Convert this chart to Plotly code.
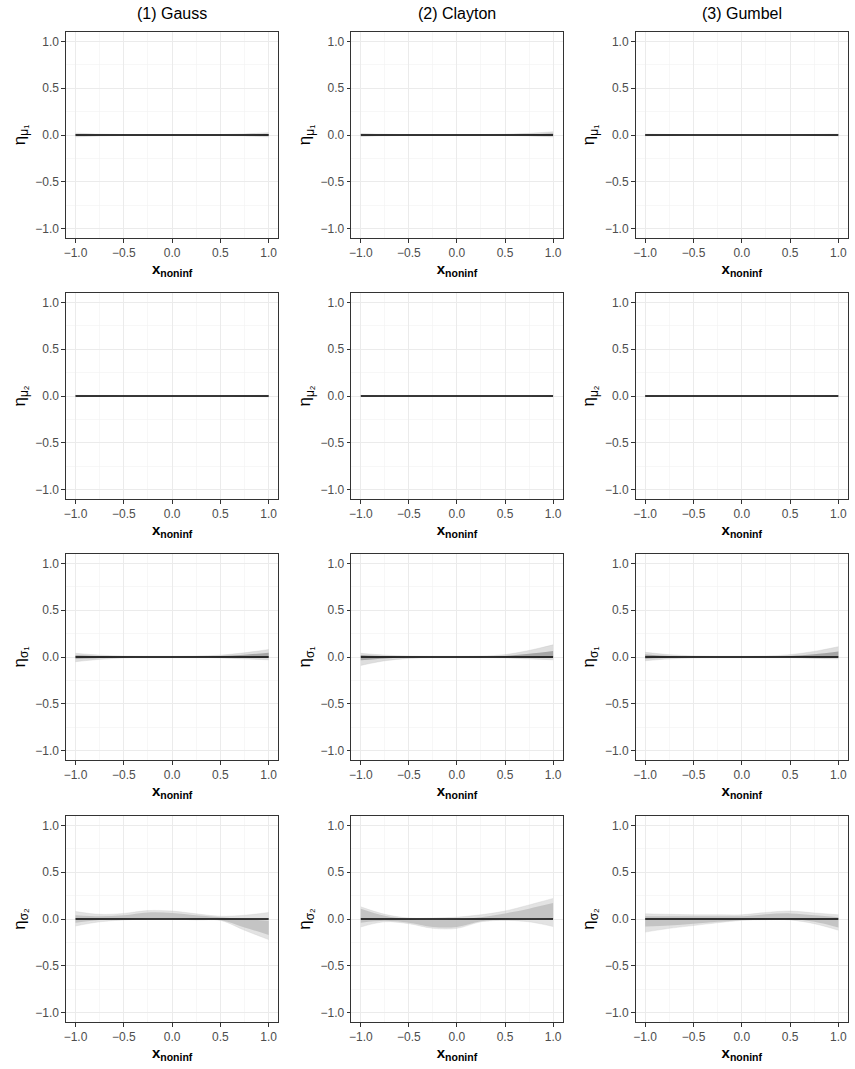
import plotly.graph_objects as go

# ---------------- data ----------------
x_grid = [-1.0, -0.75, -0.5, -0.25, 0.0, 0.25, 0.5, 0.75, 1.0]
true_effect = [0, 0, 0, 0, 0, 0, 0, 0, 0]

copulas = ["(1) Gauss", "(2) Clayton", "(3) Gumbel"]
params = ["μ₁", "μ₂", "σ₁", "σ₂"]
tick_vals = [-1.0, -0.5, 0.0, 0.5, 1.0]
tick_text = ["−1.0", "−0.5", "0.0", "0.5", "1.0"]

# envelopes of the simulated estimates: (outer low, core low, core high, outer high)
gauss_mu1 = ([-0.02, -0.01, -0.005, -0.005, -0.005, -0.005, -0.005, -0.01, -0.02],
             [-0.008, -0.004, -0.002, -0.002, -0.002, -0.002, -0.002, -0.004, -0.008],
             [0.008, 0.004, 0.002, 0.002, 0.002, 0.002, 0.002, 0.004, 0.01],
             [0.02, 0.01, 0.005, 0.005, 0.005, 0.005, 0.005, 0.012, 0.025])
clayton_mu1 = ([-0.015, -0.008, -0.004, -0.004, -0.004, -0.004, -0.005, -0.01, -0.02],
               [-0.006, -0.003, -0.002, -0.002, -0.002, -0.002, -0.002, -0.004, -0.008],
               [0.006, 0.003, 0.002, 0.002, 0.002, 0.002, 0.003, 0.008, 0.015],
               [0.015, 0.008, 0.004, 0.004, 0.004, 0.005, 0.008, 0.018, 0.035])
gumbel_mu1 = ([-0.01, -0.006, -0.003, -0.003, -0.003, -0.003, -0.003, -0.006, -0.01],
              [-0.004, -0.002, -0.001, -0.001, -0.001, -0.001, -0.001, -0.002, -0.004],
              [0.004, 0.002, 0.001, 0.001, 0.001, 0.001, 0.001, 0.002, 0.004],
              [0.01, 0.006, 0.003, 0.003, 0.003, 0.003, 0.003, 0.006, 0.01])
gauss_mu2 = ([-0.008, -0.004, -0.002, -0.002, -0.002, -0.002, -0.002, -0.004, -0.01],
             [-0.003, -0.002, -0.001, -0.001, -0.001, -0.001, -0.001, -0.002, -0.004],
             [0.003, 0.002, 0.001, 0.001, 0.001, 0.001, 0.001, 0.002, 0.003],
             [0.008, 0.004, 0.002, 0.002, 0.002, 0.002, 0.002, 0.004, 0.008])
clayton_mu2 = ([-0.006, -0.003, -0.002, -0.002, -0.002, -0.002, -0.002, -0.003, -0.008],
               [-0.002, -0.001, -0.001, -0.001, -0.001, -0.001, -0.001, -0.001, -0.003],
               [0.002, 0.001, 0.001, 0.001, 0.001, 0.001, 0.001, 0.001, 0.002],
               [0.006, 0.003, 0.002, 0.002, 0.002, 0.002, 0.002, 0.003, 0.006])
gumbel_mu2 = ([-0.005, -0.003, -0.002, -0.002, -0.002, -0.002, -0.002, -0.003, -0.005],
              [-0.002, -0.001, -0.001, -0.001, -0.001, -0.001, -0.001, -0.001, -0.002],
              [0.002, 0.001, 0.001, 0.001, 0.001, 0.001, 0.001, 0.001, 0.002],
              [0.005, 0.003, 0.002, 0.002, 0.002, 0.002, 0.002, 0.003, 0.005])
gauss_sigma1 = ([-0.05, -0.025, -0.01, -0.008, -0.008, -0.008, -0.01, -0.02, -0.03],
                [-0.02, -0.01, -0.005, -0.004, -0.004, -0.004, -0.005, -0.008, -0.012],
                [0.02, 0.01, 0.005, 0.004, 0.004, 0.005, 0.01, 0.025, 0.045],
                [0.04, 0.02, 0.01, 0.008, 0.008, 0.01, 0.02, 0.045, 0.08])
clayton_sigma1 = ([-0.09, -0.04, -0.015, -0.008, -0.008, -0.008, -0.01, -0.02, -0.03],
                  [-0.035, -0.015, -0.006, -0.004, -0.004, -0.004, -0.005, -0.008, -0.012],
                  [0.022, 0.01, 0.005, 0.004, 0.004, 0.005, 0.012, 0.035, 0.065],
                  [0.04, 0.02, 0.01, 0.008, 0.008, 0.01, 0.025, 0.07, 0.13])
gumbel_sigma1 = ([-0.04, -0.02, -0.01, -0.008, -0.008, -0.008, -0.008, -0.015, -0.02],
                 [-0.018, -0.008, -0.004, -0.004, -0.004, -0.004, -0.004, -0.006, -0.008],
                 [0.028, 0.012, 0.005, 0.004, 0.004, 0.005, 0.012, 0.03, 0.06],
                 [0.05, 0.025, 0.012, 0.008, 0.008, 0.01, 0.025, 0.06, 0.11])
gauss_sigma2 = ([-0.075, -0.03, -0.01, 0.0, 0.0, -0.01, -0.015, -0.12, -0.22],
                [-0.04, -0.01, 0.0, 0.01, 0.01, 0.0, -0.01, -0.09, -0.17],
                [0.04, 0.03, 0.04, 0.07, 0.065, 0.04, 0.02, 0.0, -0.02],
                [0.08, 0.05, 0.06, 0.09, 0.085, 0.055, 0.03, 0.04, 0.07])
clayton_sigma2 = ([-0.085, -0.03, -0.05, -0.1, -0.1, -0.03, -0.015, -0.03, -0.08],
                  [-0.04, -0.02, -0.04, -0.085, -0.085, -0.025, 0.0, 0.01, 0.0],
                  [0.11, 0.035, 0.0, -0.01, -0.005, 0.02, 0.06, 0.11, 0.17],
                  [0.13, 0.05, 0.01, 0.01, 0.02, 0.045, 0.085, 0.15, 0.22])
gumbel_sigma2 = ([-0.14, -0.1, -0.07, -0.04, -0.015, -0.007, -0.01, -0.05, -0.12],
                 [-0.08, -0.07, -0.05, -0.03, -0.01, 0.0, 0.0, -0.03, -0.09],
                 [0.03, 0.03, 0.03, 0.03, 0.03, 0.05, 0.06, 0.04, 0.02],
                 [0.055, 0.05, 0.045, 0.045, 0.045, 0.07, 0.085, 0.065, 0.045])

panels = [
    [gauss_mu1, clayton_mu1, gumbel_mu1],
    [gauss_mu2, clayton_mu2, gumbel_mu2],
    [gauss_sigma1, clayton_sigma1, gumbel_sigma1],
    [gauss_sigma2, clayton_sigma2, gumbel_sigma2],
]

# ---------------- layout geometry (pixels) ----------------
W, H = 855, 1069
col_px = [(64, 277), (350, 562), (635, 848)]
row_px = [(32, 238), (293, 499), (554, 760), (816, 1022)]

FONT = "Liberation Sans, Arial, Helvetica, sans-serif"
fig = go.Figure()
layout = dict(
    width=W, height=H, margin=dict(l=0, r=0, t=0, b=0),
    paper_bgcolor="white", plot_bgcolor="white", showlegend=False,
    font=dict(family=FONT, color="black"),
)

core_colors = ["rgba(110,110,110,0.5)", "rgba(110,110,110,0.5)",
               "rgba(110,110,110,0.5)", "rgba(185,185,185,0.75)"]
outer_colors = ["rgba(190,190,190,0.5)", "rgba(190,190,190,0.5)",
                "rgba(190,190,190,0.5)", "rgba(200,200,200,0.5)"]

k = 0
for r in range(4):
    for c in range(3):
        k += 1
        xa = "x" if k == 1 else f"x{k}"
        ya = "y" if k == 1 else f"y{k}"
        lo_out, lo_in, hi_in, hi_out = panels[r][c]
        common = dict(x=x_grid, mode="lines", xaxis=xa, yaxis=ya, hoverinfo="skip")
        fig.add_trace(go.Scatter(y=lo_out, line=dict(width=0.6, shape="spline", color=outer_colors[r]), **common))
        fig.add_trace(go.Scatter(y=hi_out, fill="tonexty", fillcolor=outer_colors[r],
                                 line=dict(width=0.6, shape="spline", color=outer_colors[r]), **common))
        fig.add_trace(go.Scatter(y=lo_in, line=dict(width=0, shape="spline", color=core_colors[r]), **common))
        fig.add_trace(go.Scatter(y=hi_in, fill="tonexty", fillcolor=core_colors[r],
                                 line=dict(width=0, shape="spline", color=core_colors[r]), **common))
        fig.add_trace(go.Scatter(y=true_effect, line=dict(color="black", width=1.6), **common))

        x0, x1 = col_px[c]
        y0, y1 = row_px[r]
        axis_common = dict(
            showline=True, linecolor="#333333", linewidth=1, mirror=True,
            ticks="outside", ticklen=3.5, tickwidth=1, tickcolor="#333333",
            showgrid=True, gridcolor="#EBEBEB", gridwidth=1,
            zeroline=False,
            minor=dict(showgrid=True, gridcolor="#F2F2F2", gridwidth=0.6, dtick=0.25, ticks=""),
            tickfont=dict(family=FONT, size=12, color="#4D4D4D"),
            tickvals=tick_vals, ticktext=tick_text, range=[-1.1, 1.1],
        )
        layout["xaxis" if k == 1 else f"xaxis{k}"] = dict(
            axis_common, domain=[x0 / W, x1 / W], anchor=ya,
            title=dict(text="<b>x<sub>noninf</sub></b>", font=dict(family=FONT, size=15, color="black"), standoff=0),
        )
        layout["yaxis" if k == 1 else f"yaxis{k}"] = dict(
            axis_common, domain=[1 - y1 / H, 1 - y0 / H], anchor=xa,
            title=dict(text=f"η<sub>{params[r]}</sub>", font=dict(family=FONT, size=17, color="black"), standoff=5),
        )

annotations = []
for c in range(3):
    x0, x1 = col_px[c]
    annotations.append(dict(text=copulas[c], x=(x0 + x1) / 2 / W, y=1 - 14 / H,
                            xref="paper", yref="paper", showarrow=False,
                            xanchor="center", yanchor="middle",
                            font=dict(family=FONT, size=16, color="black")))
layout["annotations"] = annotations
fig.update_layout(**layout)
fig.write_html("out.html", config={"displayModeBar": False, "staticPlot": True},
               post_script="document.body.style.margin='0';document.body.style.overflow='hidden';")
